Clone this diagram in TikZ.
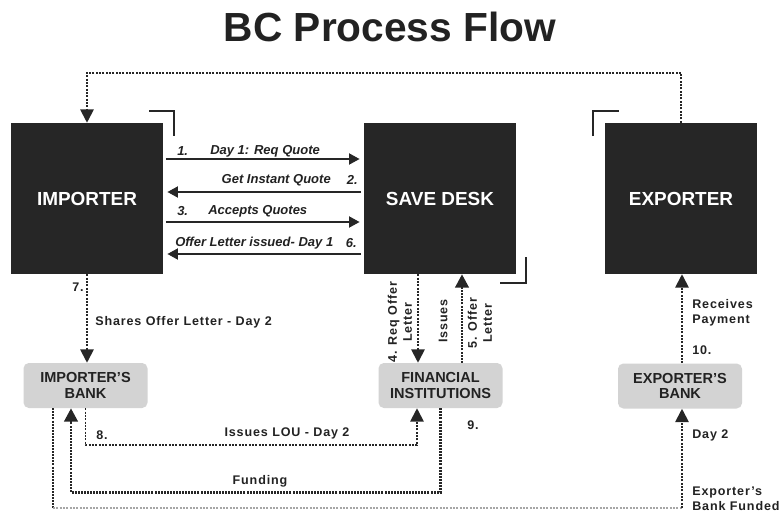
\documentclass[tikz,border=0pt]{standalone}
\usepackage{fontspec}
\setmainfont{Liberation Sans}
\newfontfamily\spacedfont[LetterSpace=7]{Liberation Sans}
\usepackage{tikz}
\usetikzlibrary{arrows.meta}
\definecolor{boxblack}{HTML}{262626}
\definecolor{bankgray}{HTML}{D3D3D3}
\definecolor{inkgray}{HTML}{222222}

\begin{document}
\begin{tikzpicture}[x=0.75pt, y=-0.75pt,
	party/.style={shape=rectangle, fill=boxblack, text=white, minimum width=114pt, minimum height=113.25pt, font=\bfseries\fontsize{14.2}{16}\selectfont},
	bank/.style={shape=rectangle, rounded corners=4pt, fill=bankgray, text=inkgray, minimum width=93pt, minimum height=33.75pt, align=center, font=\bfseries\fontsize{10.9}{11.5}\selectfont},
	qlbl/.style={inner sep=0pt, text=inkgray, font=\bfseries\itshape\fontsize{9.75}{11}\selectfont},
	plbl/.style={inner sep=0pt, text=inkgray, align=left, font=\spacedfont\bfseries\fontsize{9.4}{11.25}\selectfont},
	sarrow/.style={-{Triangle[width=8pt,length=8pt]}, line width=2.2pt, draw=boxblack, shorten <=2pt, shorten >=3pt},
	tip/.style={-{Triangle[width=10pt,length=10pt]}},
	dots/.style={line width=1.4pt, draw=boxblack, dash pattern=on 1.5pt off 1pt},
	heavydots/.style={line width=2.2pt, draw=boxblack, dash pattern=on 1.5pt off 0.8pt},
	faintdots/.style={line width=0.8pt, draw=gray!70, dash pattern=on 1.5pt off 1pt},
	cornermark/.style={line width=1.5pt, draw=boxblack}]

	\useasboundingbox (0,0) rectangle (782,517);

	\node[anchor=base, text=inkgray, font=\bfseries\fontsize{30.5}{34}\selectfont] (title) at (390,42) {BC Process Flow};

	\node[party] (imp) at (87,198.5) {IMPORTER};
	\node[party] (desk) at (440,198.5) {SAVE DESK};
	\node[party] (exp) at (681,198.5) {EXPORTER};

	\node[bank] (ibank) at (85.5,385.5) {IMPORTER’S\\BANK};
	\node[bank] (fin) at (440.5,385.5) {FINANCIAL\\INSTITUTIONS};
	\node[bank] (ebank) at (680,386) {EXPORTER’S\\BANK};

	\draw[cornermark] (149,111) -- (174,111) -- (174,136);
	\draw[cornermark] (593,136) -- (593,111) -- (619,111);
	\draw[cornermark] (526,257) -- (526,283) -- (500,283);

	\draw[sarrow] (imp.east |- 0,159) -- (desk.west |- 0,159);
	\draw[sarrow] (desk.west |- 0,192) -- (imp.east |- 0,192);
	\draw[sarrow] (imp.east |- 0,222) -- (desk.west |- 0,222);
	\draw[sarrow] (desk.west |- 0,254) -- (imp.east |- 0,254);

	\node[qlbl, anchor=west] (n1) at (177,151) {1.};
	\node[qlbl, anchor=west] (q1) at (210,151) {Day 1: Req Quote};
	\node[qlbl, anchor=east] (q2) at (331,180) {Get Instant Quote};
	\node[qlbl, anchor=east] (n2) at (358,180) {2.};
	\node[qlbl, anchor=west] (n3) at (177,211) {3.};
	\node[qlbl, anchor=west] (q3) at (208,211) {Accepts Quotes};
	\node[qlbl, anchor=west] (q6) at (175,243) {Offer Letter issued- Day 1};
	\node[qlbl, anchor=east] (n6) at (357,243) {6.};

	\draw[dots, tip] (exp.north) -- ++(0,-50) -| (imp.north);
	\draw[dots, tip] (imp.south) -- (imp.south |- ibank.north);
	\draw[dots, tip] (desk.south -| 418,0) -- (fin.north -| 418,0);
	\draw[heavydots, tip] (fin.north -| 462,0) -- (desk.south -| 462,0);
	\draw[dots, tip] (ebank.north -| 682,0) -- (exp.south -| 682,0);
	\draw[dots, tip] (ibank.south) -- ++(0,37) -| (fin.south -| 417,0);
	\draw[heavydots, tip] (fin.south) -- ++(0,84) -| (ibank.south -| 71,0);

	\coordinate (fundl) at (53,508);
	\coordinate (fundr) at (682,508);
	\draw[heavydots] (ibank.south -| 53,0) -- (fundl);
	\draw[faintdots] (fundl) -- (fundr);
	\draw[dots, tip] (fundr) -- (ebank.south -| 682,0);

	\node[plbl, anchor=east] (n7) at (84,287) {7.};
	\node[plbl, anchor=west] (p7) at (95,322) {Shares Offer Letter - Day 2};
	\node[plbl, rotate=90, align=center] (p4) at (400,322) {4. Req Offer\\Letter};
	\node[plbl, rotate=90] (p5a) at (443,321) {Issues};
	\node[plbl, rotate=90, align=center] (p5) at (480,323) {5. Offer\\Letter};
	\node[plbl, anchor=west] (n8) at (96,435) {8.};
	\node[plbl] (p8) at (287,433) {Issues LOU - Day 2};
	\node[plbl] (p9) at (260,481) {Funding};
	\node[plbl] (n9) at (473,425) {9.};
	\node[plbl, anchor=west] (p10) at (692,312.5) {Receives\\Payment};
	\node[plbl, anchor=west] (n10) at (692,350) {10.};
	\node[plbl, anchor=west] (pd2) at (692,435) {Day 2};
	\node[plbl, anchor=west] (pfund) at (692,498.5) {Exporter’s\\Bank Funded};

\end{tikzpicture}
\end{document}
